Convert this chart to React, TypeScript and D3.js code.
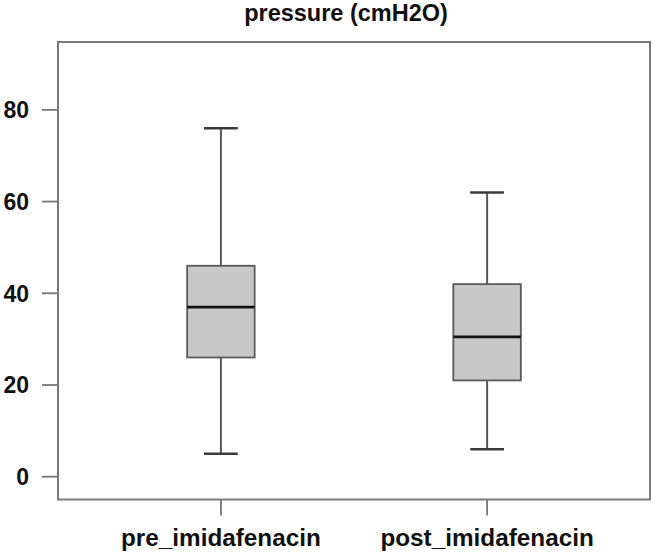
import React from "react";
import * as d3 from "d3";

const categories = ["pre_imidafenacin", "post_imidafenacin"];
const whiskerLow = [5, 6];
const q1 = [26, 21];
const median = [37, 30.5];
const q3 = [46, 42];
const whiskerHigh = [76, 62];
const yTicks = [0, 20, 40, 60, 80];
const title = "pressure (cmH2O)";

export default function App() {
  const W = 654, H = 554;
  const left = 58, right = 650, top = 42, bottom = 499.5;
  const x = d3.scaleLinear().domain([0.388, 2.612]).range([left, right]);
  const y = d3.scaleLinear().domain([-4.97, 94.8]).range([bottom, top]);
  const boxW = x(1.2535) - x(1);
  const capW = boxW / 2;
  const lineCol = "#5a5a5a";
  const font = "'Liberation Sans', Arial, Helvetica, sans-serif";
  return (
    <svg width={W} height={H} style={{ position: "absolute", left: 0, top: 0, background: "#fff" }}>
      <text x={346} y={21} textAnchor="middle" fontFamily={font} fontWeight="bold" fontSize={23.5} fill="#111">
        {title}
      </text>
      {categories.map((c, i) => {
        const cx = x(i + 1);
        return (
          <g key={c}>
            <line x1={cx} x2={cx} y1={y(whiskerHigh[i])} y2={y(q3[i])} stroke={lineCol} strokeWidth={2} />
            <line x1={cx} x2={cx} y1={y(q1[i])} y2={y(whiskerLow[i])} stroke={lineCol} strokeWidth={2} />
            <line x1={cx - capW / 2} x2={cx + capW / 2} y1={y(whiskerHigh[i])} y2={y(whiskerHigh[i])} stroke="#3a3a3a" strokeWidth={2.5} />
            <line x1={cx - capW / 2} x2={cx + capW / 2} y1={y(whiskerLow[i])} y2={y(whiskerLow[i])} stroke="#3a3a3a" strokeWidth={2.5} />
            <rect x={cx - boxW / 2} y={y(q3[i])} width={boxW} height={y(q1[i]) - y(q3[i])} fill="#c8c8c8" stroke={lineCol} strokeWidth={1.8} />
            <line x1={cx - boxW / 2} x2={cx + boxW / 2} y1={y(median[i])} y2={y(median[i])} stroke="#111" strokeWidth={2.8} />
            <line x1={cx} x2={cx} y1={bottom} y2={bottom + 16} stroke="#777" strokeWidth={1.8} />
            <text x={cx} y={546} textAnchor="middle" fontFamily={font} fontWeight="bold" fontSize={24.3} fill="#111">
              {c}
            </text>
          </g>
        );
      })}
      {yTicks.map((t) => (
        <g key={t}>
          <line x1={left - 16} x2={left} y1={y(t)} y2={y(t)} stroke="#777" strokeWidth={1.8} />
          <text x={29} y={y(t)} dy="0.36em" textAnchor="end" fontFamily={font} fontWeight="bold" fontSize={23} fill="#111">
            {t}
          </text>
        </g>
      ))}
      <rect x={left} y={top} width={right - left} height={bottom - top} fill="none" stroke="#7a7a7a" strokeWidth={2} />
    </svg>
  );
}
